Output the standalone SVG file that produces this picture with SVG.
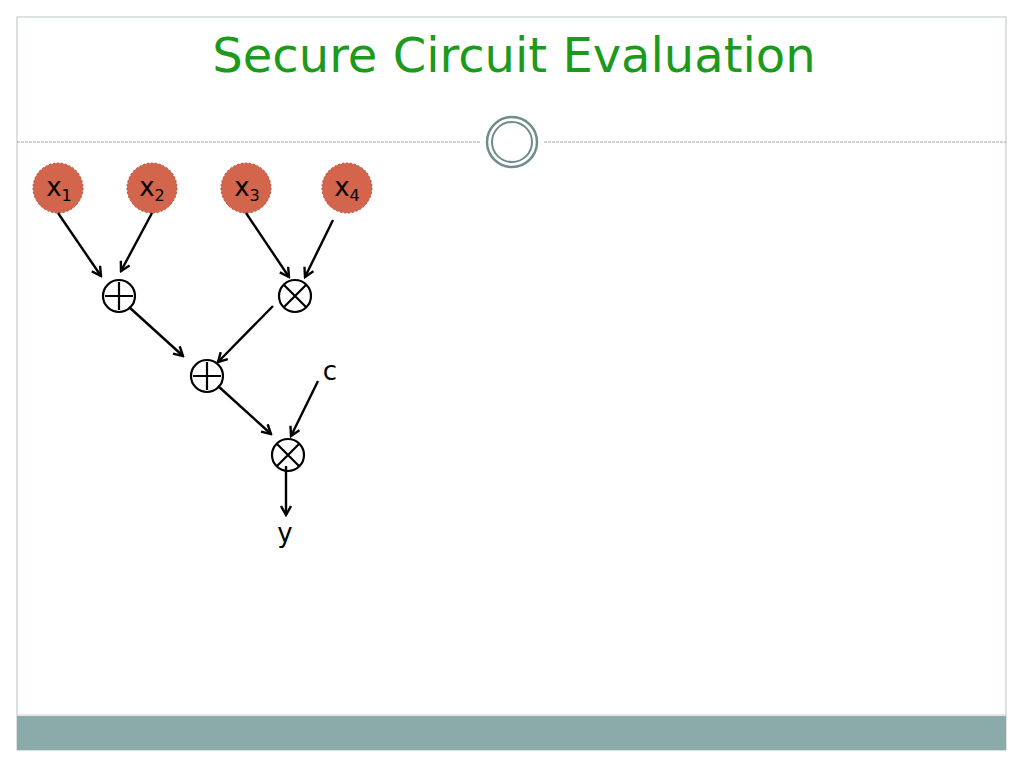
<svg xmlns="http://www.w3.org/2000/svg" width="1024" height="768" viewBox="0 0 1024 768">
<defs>
<marker id="ah" markerWidth="12" markerHeight="12" refX="10" refY="6" orient="auto" markerUnits="userSpaceOnUse">
<path d="M1,1 L10,6 L1,11" fill="none" stroke="#000" stroke-width="2.4"/>
</marker>
</defs>
<style>
.inp{fill:#D2654C;stroke:#B0493A;stroke-width:1;stroke-dasharray:2 2}
.lbl{font-family:"DejaVu Sans",sans-serif;font-size:26px;fill:#000}
.sub{font-size:16px}
.gate{fill:#fff;stroke:#000;stroke-width:2.2}
.sym{stroke:#000;stroke-width:2.2;fill:none}
.edge{stroke:#000;stroke-width:2.4;fill:none;marker-end:url(#ah)}
</style>
<rect x="0" y="0" width="1024" height="768" fill="#fff"/>
<rect x="17" y="17" width="989" height="733" fill="#fff" stroke="#b8c4c4" stroke-width="1"/>
<rect x="17" y="716" width="989" height="34" fill="#8BAAAA"/>
<line x1="17" y1="715" x2="1006" y2="715" stroke="#c8d0d0" stroke-width="1"/>
<line x1="17" y1="142" x2="480" y2="142" stroke="#9aa8a8" stroke-width="1" stroke-dasharray="3 1"/>
<line x1="544" y1="142" x2="1006" y2="142" stroke="#9aa8a8" stroke-width="1" stroke-dasharray="3 1"/>
<circle cx="512" cy="142" r="25" fill="#fff" stroke="#6f8c8a" stroke-width="2.5"/>
<circle cx="512" cy="142" r="20" fill="#fff" stroke="#6f8c8a" stroke-width="2"/>
<text x="514" y="72" text-anchor="middle" font-family="'Comic Sans MS','DejaVu Sans',sans-serif" font-size="48" fill="#1C9A1C">Secure Circuit Evaluation</text>

<g id="x1"><circle class="inp" cx="58" cy="188" r="25"/><text class="lbl" x="59" y="196" text-anchor="middle">x<tspan class="sub" dy="5">1</tspan></text></g>
<g id="x2"><circle class="inp" cx="152" cy="188" r="25"/><text class="lbl" x="152" y="196" text-anchor="middle">x<tspan class="sub" dy="5">2</tspan></text></g>
<g id="x3"><circle class="inp" cx="246" cy="188" r="25"/><text class="lbl" x="247" y="196" text-anchor="middle">x<tspan class="sub" dy="5">3</tspan></text></g>
<g id="x4"><circle class="inp" cx="347" cy="188" r="25"/><text class="lbl" x="347" y="196" text-anchor="middle">x<tspan class="sub" dy="5">4</tspan></text></g>

<g id="add1"><circle class="gate" cx="119" cy="296" r="16"/><path class="sym" d="M105,296 H133 M119,282 V310"/></g>
<g id="mul1"><circle class="gate" cx="295" cy="296" r="16"/><path class="sym" d="M284,285 L306,307 M306,285 L284,307"/></g>
<g id="add2"><circle class="gate" cx="207" cy="376" r="16"/><path class="sym" d="M193,376 H221 M207,362 V390"/></g>
<g id="mul2"><circle class="gate" cx="288" cy="455" r="16"/><path class="sym" d="M277,444 L299,466 M299,444 L277,466"/></g>
<g id="c"><text class="lbl" x="330" y="380" text-anchor="middle">c</text></g>
<g id="y"><text class="lbl" x="285" y="542" text-anchor="middle">y</text></g>

<g id="connectors">
<line class="edge" x1="58" y1="213" x2="101" y2="276"/>
<line class="edge" x1="152" y1="213" x2="121" y2="271"/>
<line class="edge" x1="246" y1="213" x2="289" y2="277"/>
<line class="edge" x1="333" y1="220" x2="305" y2="277"/>
<line class="edge" x1="129" y1="307" x2="183" y2="356"/>
<line class="edge" x1="273" y1="306" x2="218" y2="362"/>
<line class="edge" x1="318" y1="381" x2="291" y2="436"/>
<line class="edge" x1="218" y1="386" x2="271" y2="434"/>
<line class="edge" x1="286" y1="466" x2="286" y2="515"/>
</g>
</svg>
